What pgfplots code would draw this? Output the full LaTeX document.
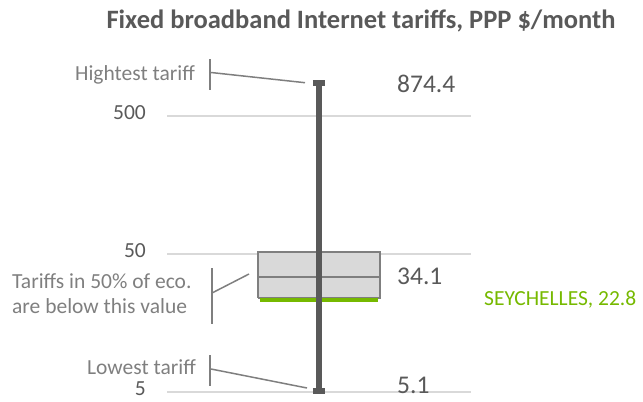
\documentclass[border=0pt]{standalone}
\usepackage{pgfplots}
\pgfplotsset{compat=1.18}
\usepackage{fontspec}
\setmainfont{Carlito}
\definecolor{tickgray}{HTML}{595959}
\definecolor{anngray}{HTML}{7F7F7F}
\definecolor{gridgray}{HTML}{D9D9D9}
\definecolor{boxfill}{HTML}{D9D9D9}
\definecolor{boxedge}{HTML}{7F7F7F}
\definecolor{whisk}{HTML}{595959}
\definecolor{seygreen}{HTML}{76B900}
\newcommand{\annfont}{\fontsize{21.5bp}{26bp}\selectfont}
\newcommand{\valfont}{\fontsize{25.5bp}{30bp}\selectfont}
\begin{document}
\begin{tikzpicture}[x=1bp,y=1bp]
\path[use as bounding box] (0,0) rectangle (643,401);
\begin{axis}[
  at={(167bp,9bp)}, anchor=south west,
  scale only axis, width=304bp, height=317.5bp,
  ymode=log, ymin=5, ymax=1000, xmin=0, xmax=1,
  axis line style={draw=none},
  xtick=\empty, ytick={5,50,500}, yticklabels={5,50,500},
  ymajorgrids, grid style={color=gridgray, line width=1.5bp},
  major tick length=0pt, minor tick num=0,
  yminorticks=false,
  /pgf/number format/assume math mode=true,
  yticklabel style={font=\annfont, text=tickgray, anchor=east, inner sep=0pt, xshift=-21bp, yshift=3.5bp},
  clip=false,
]
\addplot[fill=boxfill, draw=boxedge, line width=2bp, line join=miter] coordinates {(0.3,24) (0.7,24) (0.7,52) (0.3,52) (0.3,24)};
\addplot[boxedge, line width=2bp] coordinates {(0.3,34.1) (0.7,34.1)};
\addplot[seygreen, line width=4bp] coordinates {(0.306,23.4) (0.694,23.4)};
\addplot[whisk, line width=5.5bp] coordinates {(0.5,5.1) (0.5,874.4)};
\addplot[whisk, line width=6bp] coordinates {(0.48,874.4) (0.52,874.4)};
\addplot[whisk, line width=6bp] coordinates {(0.48,5.1) (0.52,5.1)};
\end{axis}
% title
\node[font=\fontsize{26.5bp}{30bp}\selectfont\bfseries, text=tickgray, anchor=base] at (361,373) {Fixed broadband Internet tariffs, PPP \$/month};
% value labels
\node[font=\valfont, text=tickgray, anchor=base west, inner sep=0pt] at (397,309) {874.4};
\node[font=\valfont, text=tickgray, anchor=base west, inner sep=0pt] at (397,117) {34.1};
\node[font=\valfont, text=tickgray, anchor=base west, inner sep=0pt] at (397,8) {5.1};
\node[font=\annfont, text=seygreen, anchor=base west, inner sep=0pt] at (484,96) {SEYCHELLES, 22.8};
% annotations
\node[font=\annfont, text=anngray, anchor=base east, inner sep=0pt] at (195,321) {Hightest tariff};
\draw[anngray, line width=1.5bp] (210,342) -- (210,311);
\draw[anngray, line width=1.5bp] (211,328.5) -- (305,318.3);
\node[font=\annfont, text=anngray, anchor=base west, inner sep=0pt] at (12,113) {Tariffs in 50\% of eco.};
\node[font=\annfont, text=anngray, anchor=base west, inner sep=0pt] at (12,88) {are below this value};
\draw[anngray, line width=1.5bp] (212,133) -- (212,77);
\draw[anngray, line width=1.5bp] (212,108) -- (249,127);
\node[font=\annfont, text=anngray, anchor=base east, inner sep=0pt] at (196,27) {Lowest tariff};
\draw[anngray, line width=1.5bp] (210,46) -- (210,15);
\draw[anngray, line width=1.5bp] (211,32) -- (307,13);
\end{tikzpicture}
\end{document}
